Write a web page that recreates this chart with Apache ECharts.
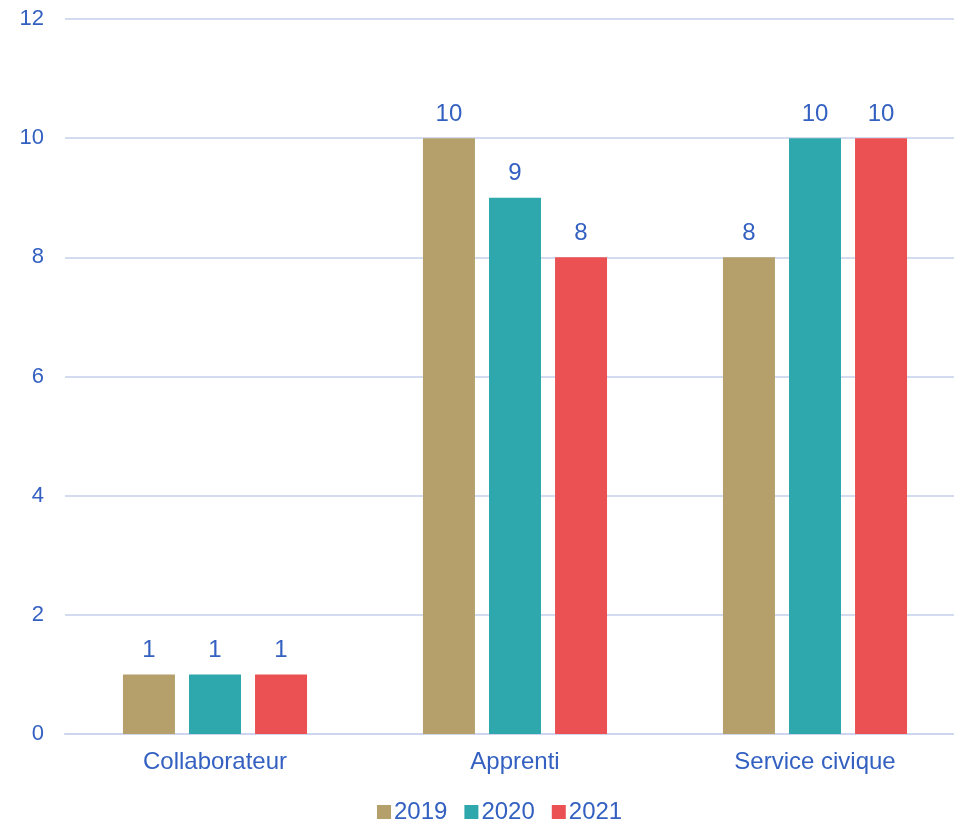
<!DOCTYPE html>
<html><head><meta charset="utf-8">
<script src="https://cdn.jsdelivr.net/npm/echarts@6/dist/echarts.min.js"></script>
<style>html,body{margin:0;padding:0;background:#fff}#c{width:954px;height:824px}</style>
</head><body><div id="c"></div>
<script>
const categories = ['Collaborateur', 'Apprenti', 'Service civique'];
const seriesNames = ['2019', '2020', '2021'];
const values2019 = [1, 10, 8];
const values2020 = [1, 9, 10];
const values2021 = [1, 8, 10];
const colors = ['#B5A06B', '#2FA8AD', '#EB5153'];
const textColor = '#3461C1';
const font = 'Liberation Sans, Arial, sans-serif';
const chart = echarts.init(document.getElementById('c'));
const data = [values2019, values2020, values2021];
chart.setOption({
  animation: false,
  grid: {left: 65, top: 19, width: 900, bottom: 90, outerBoundsMode: 'none'},
  legend: {
    top: 795, left: 372, itemWidth: 14, itemHeight: 14, itemGap: 17,
    icon: 'rect',
    textStyle: {color: textColor, fontSize: 24, fontFamily: font, padding: [0,0,0,-2]},
    data: seriesNames
  },
  xAxis: {
    type: 'category', data: categories,
    axisLine: {lineStyle: {color: '#CDD6EE', width: 2}},
    axisTick: {show: false},
    axisLabel: {color: textColor, fontSize: 24, fontFamily: font, margin: 16}
  },
  yAxis: {
    type: 'value', min: 0, max: 12, interval: 2,
    axisLine: {show: false}, axisTick: {show: false},
    splitLine: {lineStyle: {color: '#D3DBF0', width: 2}},
    axisLabel: {color: textColor, fontSize: 22, fontFamily: font, margin: 21}
  },
  series: seriesNames.map((n, i) => ({
    name: n, type: 'bar', data: data[i], barWidth: 52, barGap: '27%',
    itemStyle: {color: colors[i]},
    label: {show: true, position: 'top', distance: 12, color: textColor, fontSize: 24, fontFamily: font}
  }))
});
</script></body></html>
